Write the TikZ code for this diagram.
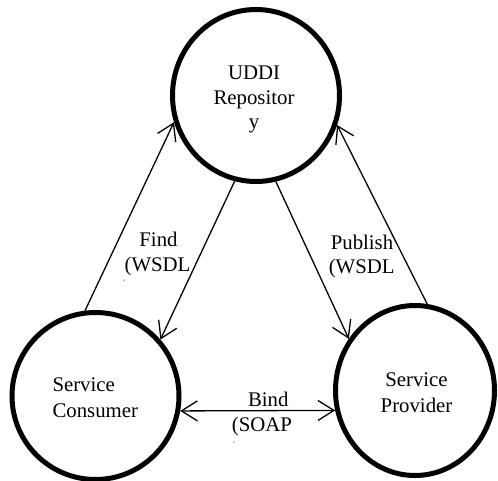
\documentclass[tikz,border=0pt]{standalone}
\usepackage{fontspec}
\setmainfont{Liberation Serif}
\usetikzlibrary{shapes.geometric,arrows.meta}
\begin{document}
\begin{tikzpicture}[x=1pt,y=-1pt,
  actor/.style={ellipse, draw, line width=5pt, inner sep=0pt, outer sep=2.5pt},
  lbl/.style={font=\fontsize{20.8}{25}\selectfont, inner sep=0pt, anchor=base},
  lblw/.style={lbl, anchor=base west},
  tick/.style={font=\fontsize{9}{9}\selectfont, inner sep=0pt, text=black!60},
  conn/.style={line width=1.3pt, -{Straight Barb[length=16pt,width=20pt]}},
  bconn/.style={line width=1.3pt, {Straight Barb[length=16pt,width=20pt]}-{Straight Barb[length=16pt,width=20pt]}}
]
\useasboundingbox (0,0) rectangle (498,481);

% actors
\node[actor, minimum width=167pt, minimum height=172pt] (uddi) at (256,95.5) {};
\node[actor, minimum width=167pt, minimum height=167pt] (consumer) at (95.5,396) {};
\node[actor, minimum width=159pt, minimum height=170pt] (provider) at (415,390.5) {};

% actor texts
\node[lbl] (uddiA) at (254,79.5) {UDDI};
\node[lbl] (uddiB) at (254,104.3) {Repositor};
\node[lbl] (uddiC) at (254,128.5) {y};
\node[lblw] (consA) at (52.3,391.7) {Service};
\node[lblw] (consB) at (52.3,417.5) {Consumer};
\node[lbl] (provA) at (416.5,386.7) {Service};
\node[lbl] (provB) at (416.5,412) {Provider};

% connectors
\draw[conn] (consumer.97) -- (uddi.198.3);
\draw[conn] (uddi.-104.9) -- (consumer.41.4);
\draw[conn] (uddi.-77.6) -- (provider.142.6);
\draw[conn] (provider.82.1) -- (uddi.-20.5);
\draw[bconn] (consumer.-10.3) -- (provider.194.7);

% connector labels
\node[lbl] (findA) at (158.5,246.7) {Find};
\node[lbl] (findB) at (157.5,271.7) {(WSDL};
\node[tick] (findT) at (124,283) {`};
\node[lbl] (pubA) at (362,249.3) {Publish};
\node[lbl] (pubB) at (361.7,273.3) {(WSDL};
\node[lbl] (bindA) at (268.3,406.7) {Bind};
\node[lbl] (bindB) at (262,431.7) {(SOAP};
\node[tick] (bindT) at (234,445) {`};
\end{tikzpicture}
\end{document}
